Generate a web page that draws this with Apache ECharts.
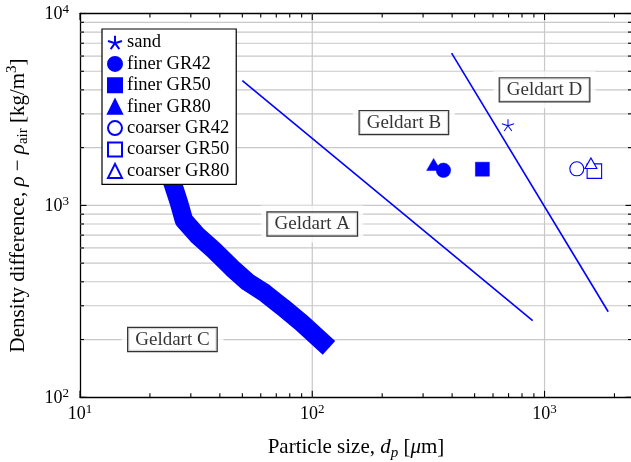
<!DOCTYPE html>
<html>
<head>
<meta charset="utf-8">
<script src="https://cdn.jsdelivr.net/npm/echarts@6/dist/echarts.min.js"></script>
<style>html,body{margin:0;padding:0;background:#fff}#c{width:631px;height:462px}</style>
</head>
<body>
<div id="c"></div>
<script>
// ---- data ----
const xMin = 10, xMax = 2380, yMin = 100, yMax = 10000;
const xMajor = [10, 100, 1000];
const yMajor = [100, 1000, 10000];
const xMinor = [20, 30, 40, 50, 60, 70, 80, 90, 200, 300, 400, 500, 600, 700, 800, 900, 2000];
const yMinor = [200, 300, 400, 500, 600, 700, 800, 900, 2000, 3000, 4000, 5000, 6000, 7000, 8000, 9000];
const xGrid = [100, 1000];
const yGrid = [200, 300, 400, 500, 600, 700, 800, 900, 1000, 2000, 3000, 4000, 5000, 6000, 7000, 8000, 9000];

// Geldart C/A boundary band (centre line)
const bandCA = [[23.2, 1724], [25.2, 1277], [26.7, 1029], [28.0, 839], [31.9, 701], [37.6, 586], [45.1, 472], [52.7, 399], [62.4, 350], [74.6, 295], [90.0, 244], [118, 181]];
// Geldart A/B boundary
const lineAB = [[50, 4470], [889, 251]];
// Geldart B/D boundary
const lineBD = [[398, 6210], [1880, 279]];

const sand = [[696, 2620]];
const finerGR42 = [[367, 1524]];
const finerGR50 = [[540, 1544]];
const finerGR80 = [[333, 1634]];
const coarserGR42 = [[1377, 1551]];
const coarserGR50 = [[1639, 1508]];
const coarserGR80 = [[1584, 1658]];

const regionLabels = [[100, 800, 'Geldart A'], [248, 2700, 'Geldart B'], [25, 200, 'Geldart C'], [1000, 4000, 'Geldart D']];

const legendNames = ['sand', 'finer GR42', 'finer GR50', 'finer GR80', 'coarser GR42', 'coarser GR50', 'coarser GR80'];

// ---- chart ----
const FONT = 'Liberation Serif';
const BLUE = '#0000ff';
const chart = echarts.init(document.getElementById('c'), null, {renderer: 'canvas'});

function powLabel(v) {
  const e = Math.round(Math.log10(v));
  return '{b|10}{s|' + e + '}';
}
const tickRich = {
  b: {fontFamily: FONT, fontSize: 18, color: '#000', verticalAlign: 'bottom', lineHeight: 20},
  s: {fontFamily: FONT, fontSize: 13, color: '#000', verticalAlign: 'top', lineHeight: 20}
};
const NS = 21, NSS = 15;
const nameRich = {
  t: {fontFamily: FONT, fontSize: NS, color: '#000', verticalAlign: 'middle', lineHeight: 26},
  i: {fontFamily: FONT, fontSize: NS, fontStyle: 'italic', color: '#000', verticalAlign: 'middle', lineHeight: 26},
  sub: {fontFamily: FONT, fontSize: NSS, color: '#000', verticalAlign: 'bottom', lineHeight: 26},
  isub: {fontFamily: FONT, fontSize: NSS, fontStyle: 'italic', color: '#000', verticalAlign: 'bottom', lineHeight: 26},
  sup: {fontFamily: FONT, fontSize: NSS, color: '#000', verticalAlign: 'top', lineHeight: 26}
};

function baseAxis(extra) {
  return Object.assign({
    type: 'log', logBase: 10,
    axisLine: {show: true, lineStyle: {color: '#000', width: 1.3}},
    axisTick: {show: false},
    splitLine: {show: false},
    minorTick: {show: false},
    minorSplitLine: {show: false}
  }, extra);
}

function renderGrid(params, api) {
  const cs = params.coordSys;
  const x0 = cs.x, x1 = cs.x + cs.width, y0 = cs.y, y1 = cs.y + cs.height;
  const st = {stroke: '#c8c8c8', lineWidth: 1.2};
  const ch = [];
  xGrid.forEach(v => { const p = api.coord([v, yMin])[0]; ch.push({type: 'line', shape: {x1: p, y1: y0, x2: p, y2: y1}, style: st}); });
  yGrid.forEach(v => { const p = api.coord([xMin, v])[1]; ch.push({type: 'line', shape: {x1: x0, y1: p, x2: x1, y2: p}, style: st}); });
  return {type: 'group', children: ch};
}
function renderTicks(params, api) {
  const cs = params.coordSys;
  const x0 = cs.x, x1 = cs.x + cs.width, y0 = cs.y, y1 = cs.y + cs.height;
  const st = {stroke: '#000', lineWidth: 1.1};
  const ch = [];
  const add = (a, b, c, d) => ch.push({type: 'line', shape: {x1: a, y1: b, x2: c, y2: d}, style: st});
  xMinor.forEach(v => { const p = api.coord([v, yMin])[0]; add(p, y1, p, y1 - 4); add(p, y0, p, y0 + 4); });
  xMajor.forEach(v => { const p = api.coord([v, yMin])[0]; add(p, y1, p, y1 - 6.5); add(p, y0, p, y0 + 6.5); });
  yMinor.forEach(v => { const p = api.coord([xMin, v])[1]; add(x0, p, x0 + 4, p); add(x1, p, x1 - 4, p); });
  yMajor.forEach(v => { const p = api.coord([xMin, v])[1]; add(x0, p, x0 + 6.5, p); add(x1, p, x1 - 6.5, p); });
  return {type: 'group', children: ch};
}

const STAR = 'path://M0 -1L0 0M0.951 -0.309L0 0M0.588 0.809L0 0M-0.588 0.809L0 0M-0.951 -0.309L0 0';

function markerSeries(name, data, symbol, size, filled) {
  return {
    type: 'scatter', name: name, data: data, symbol: symbol, symbolSize: size, z: 5,
    itemStyle: filled ? {color: BLUE, borderColor: BLUE, borderWidth: 0.5, opacity: 1}
                      : {color: '#fff', borderColor: BLUE, borderWidth: 1.1, opacity: 1}
  };
}

const option = {
  animation: false,
  backgroundColor: '#fff',
  grid: {left: 80, right: -1, top: 13.5, bottom: 64.7, containLabel: false, outerBoundsMode: 'none'},
  xAxis: [
    baseAxis({position: 'bottom', min: xMin, max: xMax,
      axisLabel: {show: true, formatter: powLabel, rich: tickRich, margin: 6, showMaxLabel: false},
      name: '{t|Particle size, }{i|d}{isub|p}{t| [}{i|μ}{t|m]}',
      nameLocation: 'middle', nameGap: 37, nameTextStyle: {rich: nameRich}}),
    baseAxis({position: 'top', min: xMin, max: xMax, axisLabel: {show: false}})
  ],
  yAxis: [
    baseAxis({position: 'left', min: yMin, max: yMax,
      axisLabel: {show: true, formatter: powLabel, rich: tickRich, margin: 11},
      name: '{t|Density difference, }{i|ρ}{t| − }{i|ρ}{sub|air}{t| [kg/m}{sup|3}{t|]}',
      nameLocation: 'middle', nameRotate: 90, nameGap: 49, nameTextStyle: {rich: nameRich}}),
    baseAxis({position: 'right', min: yMin, max: yMax, axisLabel: {show: false}})
  ],
  legend: {
    data: legendNames, z: 20,
    orient: 'vertical', left: 102, top: 29,
    itemWidth: 14, itemHeight: 14, itemGap: 2.4,
    padding: [4, 7, 4, 5],
    backgroundColor: '#fff', borderColor: '#000', borderWidth: 1.2, borderRadius: 0,
    textStyle: {fontFamily: FONT, fontSize: 18.5, color: '#000', lineHeight: 18},
    selectedMode: false
  },
  series: [
    {type: 'custom', name: 'grid', coordinateSystem: 'cartesian2d', renderItem: renderGrid, data: [[xMin, yMin]], z: 1, silent: true, clip: false},
    {type: 'custom', name: 'ticks', coordinateSystem: 'cartesian2d', renderItem: renderTicks, data: [[xMin, yMin]], z: 10, silent: true, clip: false},
    {type: 'scatter', name: 'regions', data: regionLabels, symbol: 'rect', symbolSize: [102, 37], z: 3, silent: true,
      itemStyle: {color: '#fff'},
      label: {show: true, position: 'inside', formatter: p => p.data[2], fontFamily: FONT, fontSize: 19, color: '#000',
        lineHeight: 18, backgroundColor: '#fff', borderColor: '#000', borderWidth: 1.2, padding: [3, 7, 2, 7]}},
    {type: 'line', name: 'C/A', data: bandCA, symbol: 'none', z: 4, silent: true,
      lineStyle: {color: BLUE, width: 18.5, cap: 'butt', join: 'round'}},
    {type: 'line', name: 'A/B', data: lineAB, symbol: 'none', z: 4, silent: true, lineStyle: {color: BLUE, width: 1.6}},
    {type: 'line', name: 'B/D', data: lineBD, symbol: 'none', z: 4, silent: true, lineStyle: {color: BLUE, width: 1.6}},
    {type: 'scatter', name: 'sand', data: sand, symbol: STAR, symbolSize: [12.3, 11.7], z: 5,
      itemStyle: {color: BLUE, borderColor: BLUE, borderWidth: 1, opacity: 1}},
    markerSeries('finer GR42', finerGR42, 'circle', 14.5, true),
    markerSeries('finer GR50', finerGR50, 'rect', 14, true),
    markerSeries('finer GR80', finerGR80, 'triangle', [14, 12], true),
    markerSeries('coarser GR42', coarserGR42, 'circle', 14, false),
    markerSeries('coarser GR50', coarserGR50, 'rect', 14.5, false),
    markerSeries('coarser GR80', coarserGR80, 'triangle', [12, 10.5], false)
  ]
};
chart.setOption(option);
</script>
</body>
</html>
